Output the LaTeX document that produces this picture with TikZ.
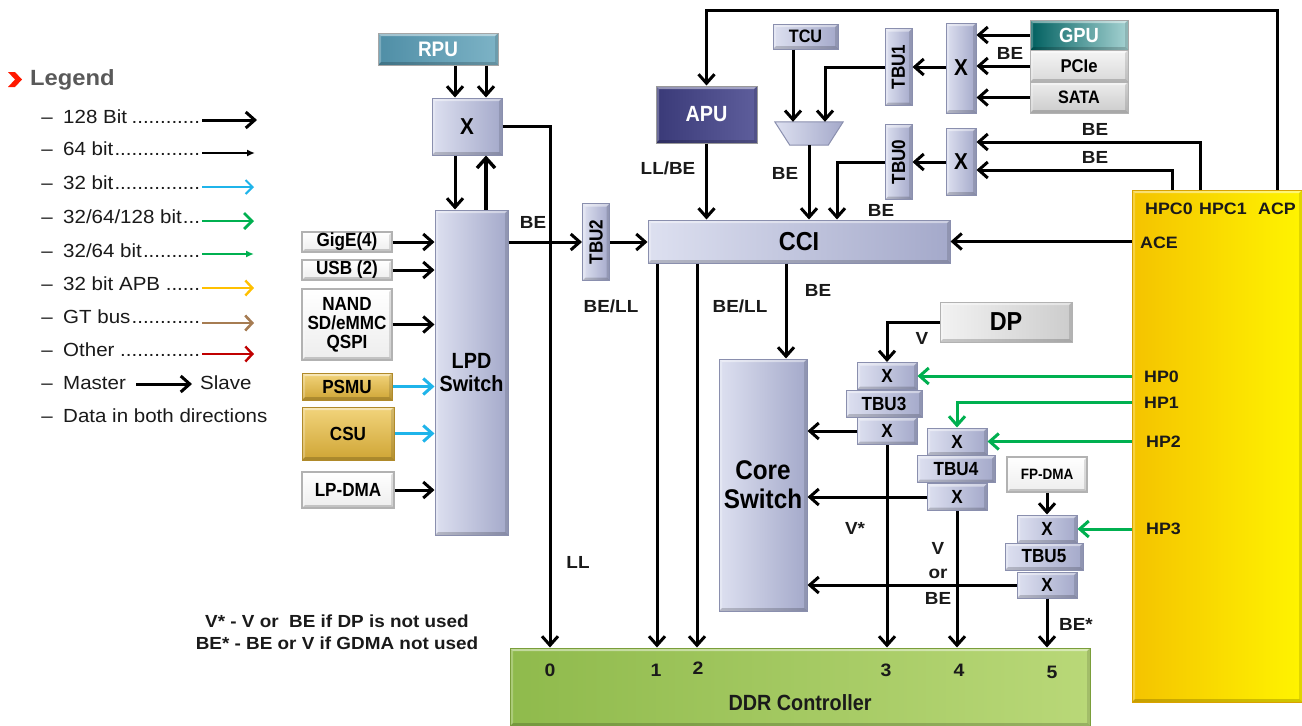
\documentclass[tikz,border=0pt]{standalone}
\usepackage{fontspec}
\setmainfont{Liberation Sans}[FakeStretch=1.08]
\newfontfamily\narrow{Liberation Sans}[FakeStretch=0.9]
\usetikzlibrary{arrows.meta,calc}
\newcommand\fsz[1]{\fontsize{#1}{#1}\selectfont}
\definecolor{lavl}{HTML}{DDE0F0}
\definecolor{lavr}{HTML}{A4A9CA}
\definecolor{lavb}{HTML}{8A8FAE}
\definecolor{goldl}{HTML}{F2D47C}
\definecolor{goldd}{HTML}{CFA535}
\definecolor{goldb}{HTML}{B08A2A}
\definecolor{hpgreen}{HTML}{00B050}
\definecolor{cyanc}{HTML}{1FB4EA}
\definecolor{legy}{HTML}{FFC000}
\definecolor{legbr}{HTML}{A67C52}
\definecolor{legred}{HTML}{C00000}
\definecolor{txt}{HTML}{1A1A1A}
\definecolor{ddrl}{HTML}{8FBA4C}
\definecolor{ddrr}{HTML}{B9D878}
\definecolor{ddrb}{HTML}{7A9E3A}
\definecolor{yell}{HTML}{F4C300}
\definecolor{yelr}{HTML}{FFF400}
\definecolor{yelb}{HTML}{D9A200}
\definecolor{rpul}{HTML}{4F8EA6}
\definecolor{rpur}{HTML}{7DB3C6}
\definecolor{apul}{HTML}{3A3A78}
\definecolor{apur}{HTML}{5E5E9C}
\begin{document}
\begin{tikzpicture}[x=1pt,y=-1pt,
  sz/.style 2 args={minimum width=#1pt, minimum height=#2pt},
  bev/.style={path picture={
    \fill[white,opacity=.45] (path picture bounding box.north west) -- (path picture bounding box.north east)
       -- ([shift={(-3pt,-3pt)}]path picture bounding box.north east) -- ([shift={(3pt,-3pt)}]path picture bounding box.north west) -- cycle;
    \fill[white,opacity=.25] (path picture bounding box.north west) -- (path picture bounding box.south west)
       -- ([shift={(3pt,3pt)}]path picture bounding box.south west) -- ([shift={(3pt,-3pt)}]path picture bounding box.north west) -- cycle;
    \fill[black,opacity=.18] (path picture bounding box.south west) -- (path picture bounding box.south east)
       -- ([shift={(-3pt,3pt)}]path picture bounding box.south east) -- ([shift={(3pt,3pt)}]path picture bounding box.south west) -- cycle;
    \fill[black,opacity=.12] (path picture bounding box.north east) -- (path picture bounding box.south east)
       -- ([shift={(-3pt,3pt)}]path picture bounding box.south east) -- ([shift={(-3pt,-3pt)}]path picture bounding box.north east) -- cycle;
  }},
  base/.style={inner sep=0pt, align=center, line width=1pt, font=\narrow\bfseries\fsz{19}, bev},
  lav/.style={base, draw=lavb, left color=lavl, right color=lavr},
  wbox/.style={base, draw=gray!60, line width=1.2pt, top color=white, bottom color=gray!14},
  gold/.style={base, draw=goldb, top color=goldl, bottom color=goldd},
  lbl/.style={font=\bfseries\fsz{17.5}, inner sep=0pt, text=txt},
  hp/.style={font=\bfseries\fsz{16.5}, inner sep=0pt, anchor=west, text=txt},
  leg/.style={font=\fsz{19}, inner sep=0pt, text=txt, text height=14pt, text depth=4pt},
  arr/.style={line width=3pt, -{Straight Barb[length=9pt,width=16pt]}},
  garr/.style={arr, draw=hpgreen},
  carr/.style={arr, draw=cyanc}
]
\useasboundingbox (0,0) rectangle (1302,726);
\fill[white] (0,0) rectangle (1302,726);

% ---------------- Legend ----------------
\fill[red!80!orange] (8,72) -- (15,72) -- (22,79.5) -- (15,87) -- (8,87) -- (15,79.5) -- cycle;
\node[font=\bfseries\fsz{22}, text=black!65, anchor=west, inner sep=0pt] (legt) at (30,80) {Legend};
\foreach \i/\yy in {1/118,2/150,3/184,4/218,5/252,6/285,7/318,8/351,9/384,10/417}
  \node[leg] (d\i) at (47,\yy) {--};
\node[leg, anchor=west] (l1) at (63,118) {\makebox[139pt][l]{128 Bit\leaders\hbox{.}\hfill}};
\node[leg, anchor=west] (l2) at (63,150) {\makebox[139pt][l]{64 bit\leaders\hbox{.}\hfill}};
\node[leg, anchor=west] (l3) at (63,184) {\makebox[139pt][l]{32 bit\leaders\hbox{.}\hfill}};
\node[leg, anchor=west] (l4) at (63,218) {\makebox[139pt][l]{32/64/128 bit\leaders\hbox{.}\hfill}};
\node[leg, anchor=west] (l5) at (63,252) {\makebox[139pt][l]{32/64 bit\leaders\hbox{.}\hfill}};
\node[leg, anchor=west] (l6) at (63,285) {\makebox[139pt][l]{32 bit APB\leaders\hbox{.}\hfill}};
\node[leg, anchor=west] (l7) at (63,318) {\makebox[139pt][l]{GT bus\leaders\hbox{.}\hfill}};
\node[leg, anchor=west] (l8) at (63,351) {\makebox[139pt][l]{Other\leaders\hbox{.}\hfill}};
\node[leg, anchor=west] (l9) at (63,384) {Master};
\node[leg, anchor=west] (l9s) at (200,384) {Slave};
\node[leg, anchor=west] (l10) at (63,417) {Data in both directions};
\coordinate (e1) at (257,120);
\coordinate (e2) at (255,153);
\coordinate (e3) at (254,187);
\coordinate (e4) at (254,221);
\coordinate (e5) at (254,254);
\coordinate (e6) at (254,288);
\coordinate (e7) at (254,323);
\coordinate (e8) at (254,354);
\coordinate (ms1) at (136,384);
\coordinate (ms2) at (192,384);
\draw[arr] (l1.east |- e1) -- (e1);
\draw[line width=1.8pt, -{Latex[length=8pt,width=7pt]}] (l2.east |- e2) -- (e2);
\draw[line width=2pt, cyanc, -{Straight Barb[length=7pt,width=14pt]}] (l3.east |- e3) -- (e3);
\draw[line width=2.8pt, hpgreen, -{Straight Barb[length=8pt,width=16pt]}] (l4.east |- e4) -- (e4);
\draw[line width=1.8pt, hpgreen, -{Latex[length=8pt,width=7pt]}] (l5.east |- e5) -- (e5);
\draw[line width=2.4pt, legy, -{Straight Barb[length=7pt,width=15pt]}] (l6.east |- e6) -- (e6);
\draw[line width=2.6pt, legbr, -{Straight Barb[length=7pt,width=15pt]}] (l7.east |- e7) -- (e7);
\draw[line width=2.4pt, legred, -{Straight Barb[length=7pt,width=15pt]}] (l8.east |- e8) -- (e8);
\draw[arr] (ms1) -- (ms2);

% ---------------- Left part ----------------
\node[base, draw=black!35, left color=rpul, right color=rpur, text=white, sz={120}{32}, font=\narrow\bfseries\fsz{21}] (rpu) at (438,49) {RPU};
\node[lav, sz={70}{57}, font=\narrow\bfseries\fsz{23}] (xr) at (467,126.5) {X};
\node[lav, sz={73}{325}, font=\narrow\bfseries\fsz{22}] (lpd) at (471.5,372.5) {LPD\\[1pt]Switch};
\node[wbox, sz={90}{20}] (gige) at (347,242) {GigE(4)};
\node[wbox, sz={90}{20}] (usb) at (347,270) {USB (2)};
\node[wbox, sz={90}{71}] (nand) at (347,324.5) {NAND\\SD/eMMC\\QSPI};
\node[gold, sz={90}{27}] (psmu) at (347,386.5) {PSMU};
\node[gold, sz={92}{53}] (csu) at (348,433.5) {CSU};
\node[wbox, sz={92}{36}] (lpdma) at (348,490) {LP-DMA};
\node[lav, sz={27}{77}] (tbu2) at (596,242) {\rotatebox{90}{TBU2}};

\draw[arr] (455,0 |- rpu.south) -- (455,0 |- xr.north);
\draw[arr] (486,0 |- rpu.south) -- (486,0 |- xr.north);
\draw[arr] (455,0 |- xr.south) -- (455,0 |- lpd.north);
\draw[line width=3.4pt, -{Straight Barb[length=10pt,width=18pt]}] (486,0 |- lpd.north) -- (486,0 |- xr.south);
\draw[arr] (gige.east) -- (lpd.west |- gige.east);
\draw[arr] (usb.east) -- (lpd.west |- usb.east);
\draw[arr] (nand.east) -- (lpd.west |- nand.east);
\draw[carr] (psmu.east) -- (lpd.west |- psmu.east);
\draw[carr] (csu.east) -- (lpd.west |- csu.east);
\draw[arr] (lpdma.east) -- (lpd.west |- lpdma.east);
\draw[arr] (lpd.east |- tbu2.west) -- (tbu2.west);

% ---------------- Top middle ----------------
\node[base, draw=black!40, left color=apul, right color=apur, text=white, sz={101}{57}, font=\narrow\bfseries\fsz{22}] (apu) at (706.5,114.5) {APU};
\node[lav, sz={65}{25}, font=\narrow\bfseries\fsz{18}] (tcu) at (805.5,36.5) {TCU};
\node[sz={68}{23}, inner sep=0pt] (mux) at (809,133.5) {};
\draw[draw=lavb, line width=1pt, left color=lavl, right color=lavr] (mux.north west) -- (mux.north east) -- ([xshift=-15pt]mux.south east) -- ([xshift=15pt]mux.south west) -- cycle;
\node[lav, sz={27}{77}] (tbu1) at (898.5,67) {\rotatebox{90}{TBU1}};
\node[lav, sz={27}{75}] (tbu0) at (898.5,162) {\rotatebox{90}{TBU0}};
\node[lav, sz={30}{90}, font=\narrow\bfseries\fsz{23}] (xg) at (961,68) {X};
\node[lav, sz={30}{67}, font=\narrow\bfseries\fsz{23}] (xh) at (961,161.5) {X};
\node[base, draw=black!35, left color=teal!75!black, right color=teal!35!white, text=white, sz={98}{30}, font=\narrow\bfseries\fsz{20.5}] (gpu) at (1079,35) {GPU};
\node[base, draw=black!30, top color=gray!8, bottom color=gray!30, sz={98}{32}, font=\narrow\bfseries\fsz{18.5}] (pcie) at (1079,66) {PCIe};
\node[base, draw=black!30, top color=gray!15, bottom color=gray!40, sz={98}{31}, font=\narrow\bfseries\fsz{18}] (sata) at (1079,97.5) {SATA};

% CCI, core switch, yellow block
\node[lav, sz={302}{43}, font=\narrow\bfseries\fsz{26}] (cci) at (799,241.5) {CCI};
\node[lav, sz={88}{252}, font=\narrow\bfseries\fsz{27}] (core) at (763,485) {Core\\[2pt]Switch};
\node[base, draw=yelb, left color=yell, right color=yelr, sz={170}{512}] (yel) at (1217,446) {};

% ---------------- Right middle TBUs ----------------
\node[base, draw=black!30, left color=gray!10, right color=gray!40, sz={132}{40}, font=\narrow\bfseries\fsz{26}] (dp) at (1006,322) {DP};
\node[lav, sz={60}{27}] (x3a) at (887,376) {X};
\node[lav, sz={76}{27}] (t3) at (884,403.5) {TBU3};
\node[lav, sz={60}{27}] (x3b) at (887,431) {X};
\node[lav, sz={60}{27}] (x4a) at (957,441.5) {X};
\node[lav, sz={78}{27}] (t4) at (956,469) {TBU4};
\node[lav, sz={60}{27}] (x4b) at (957,497) {X};
\node[wbox, sz={80}{35}, font=\narrow\bfseries\fsz{15}] (fpdma) at (1047,474.5) {FP-DMA};
\node[lav, sz={60}{28}] (x5a) at (1047,529) {X};
\node[lav, sz={78}{27}] (t5) at (1044,556.5) {TBU5};
\node[lav, sz={60}{26}] (x5b) at (1047,585) {X};

% DDR
\node[base, draw=ddrb, left color=ddrl, right color=ddrr, sz={580}{78}] (ddr) at (800,687) {};

% ---------------- Connectors ----------------
\draw[arr] (xr.east) -| (550,0 |- ddr.north);
\draw[arr] (tbu2.east) -- (cci.west |- tbu2.east);
\draw[arr] (1277,0 |- yel.north) |- (apu.north |- 0,10) -- (apu.north);
\draw[arr] (apu.south) -- (apu.south |- cci.north);
\draw[arr] (793,0 |- tcu.south) -- (793,0 |- mux.north);
\draw[arr] (tbu1.west) -| (825,0 |- mux.north);
\draw[arr] (mux.south) -- (mux.south |- cci.north);
\draw[arr] (tbu0.west) -| (837,0 |- cci.north);
\draw[arr] (xg.west |- tbu1.east) -- (tbu1.east);
\draw[arr] (xh.west |- tbu0.east) -- (tbu0.east);
\draw[arr] (gpu.west) -- (xg.east |- gpu.west);
\draw[arr] (pcie.west) -- (xg.east |- pcie.west);
\draw[arr] (sata.west) -- (xg.east |- sata.west);
\draw[arr] (1200,0 |- yel.north) |- (xh.east |- 0,142);
\draw[arr] (1172,0 |- yel.north) |- (xh.east |- 0,170);
\draw[arr] (yel.west |- cci.east) -- (cci.east);
\draw[arr] (657,0 |- cci.south) -- (657,0 |- ddr.north);
\draw[arr] (697,0 |- cci.south) -- (697,0 |- ddr.north);
\draw[arr] (786,0 |- cci.south) -- (786,0 |- core.north);
\draw[arr] (dp.west) -| (x3a.north);
\draw[garr] (yel.west |- x3a.east) -- (x3a.east);
\draw[garr] (yel.west |- 0,402) -| (x4a.north);
\draw[garr] (yel.west |- x4a.east) -- (x4a.east);
\draw[garr] (yel.west |- x5a.east) -- (x5a.east);
\draw[arr] (x5a.north |- fpdma.south) -- (x5a.north);
\draw[arr] (x3b.west) -- (core.east |- x3b.west);
\draw[arr] (x4b.west) -- (core.east |- x4b.west);
\draw[arr] (x5b.west) -- (core.east |- x5b.west);
\draw[arr] (x3b.south) -- (x3b.south |- ddr.north);
\draw[arr] (x4b.south) -- (x4b.south |- ddr.north);
\draw[arr] (x5b.south) -- (x5b.south |- ddr.north);

% ---------------- Labels ----------------
\node[lbl] (b1) at (533,222) {BE};
\node[lbl] (b2) at (611,306) {BE/LL};
\node[lbl] (b3) at (578,562) {LL};
\node[lbl] (b4) at (668,168) {LL/BE};
\node[lbl] (b5) at (785,173) {BE};
\node[lbl] (b6) at (881,210) {BE};
\node[lbl] (b7) at (1010,53) {BE};
\node[lbl] (b8) at (1095,129) {BE};
\node[lbl] (b9) at (1095,157) {BE};
\node[lbl] (b10) at (740,306) {BE/LL};
\node[lbl] (b11) at (818,290) {BE};
\node[lbl] (b12) at (922,338) {V};
\node[lbl] (b13) at (855,528) {V*};
\node[lbl] (b14) at (938,548) {V};
\node[lbl] (b15) at (938,574) {or};
\node[lbl] (b16) at (938,598) {BE};
\node[lbl, anchor=west] (b17) at (1059,624) {BE*};
\node[lbl] (note1) at (337,621) {V* - V or\ \ BE if DP is not used};
\node[lbl] (note2) at (337,643) {BE* - BE or V if GDMA not used};

\node[hp] (hpc0) at (1145,209) {HPC0};
\node[hp] (hpc1) at (1199,209) {HPC1};
\node[hp] (acp) at (1258,209) {ACP};
\node[hp] (ace) at (1140,243) {ACE};
\node[hp] (hp0) at (1144,377) {HP0};
\node[hp] (hp1) at (1144,403) {HP1};
\node[hp] (hp2) at (1146,442) {HP2};
\node[hp] (hp3) at (1146,529) {HP3};

\node[lbl, font=\bfseries\fsz{18}] (n0) at (550,670) {0};
\node[lbl, font=\bfseries\fsz{18}] (n1) at (656,670) {1};
\node[lbl, font=\bfseries\fsz{18}] (n2) at (698,668) {2};
\node[lbl, font=\bfseries\fsz{18}] (n3) at (886,670) {3};
\node[lbl, font=\bfseries\fsz{18}] (n4) at (959,670) {4};
\node[lbl, font=\bfseries\fsz{18}] (n5) at (1052,672) {5};
\node[lbl, font=\narrow\bfseries\fsz{22}] (ddrt) at (800,703) {DDR Controller};
\end{tikzpicture}
\end{document}
